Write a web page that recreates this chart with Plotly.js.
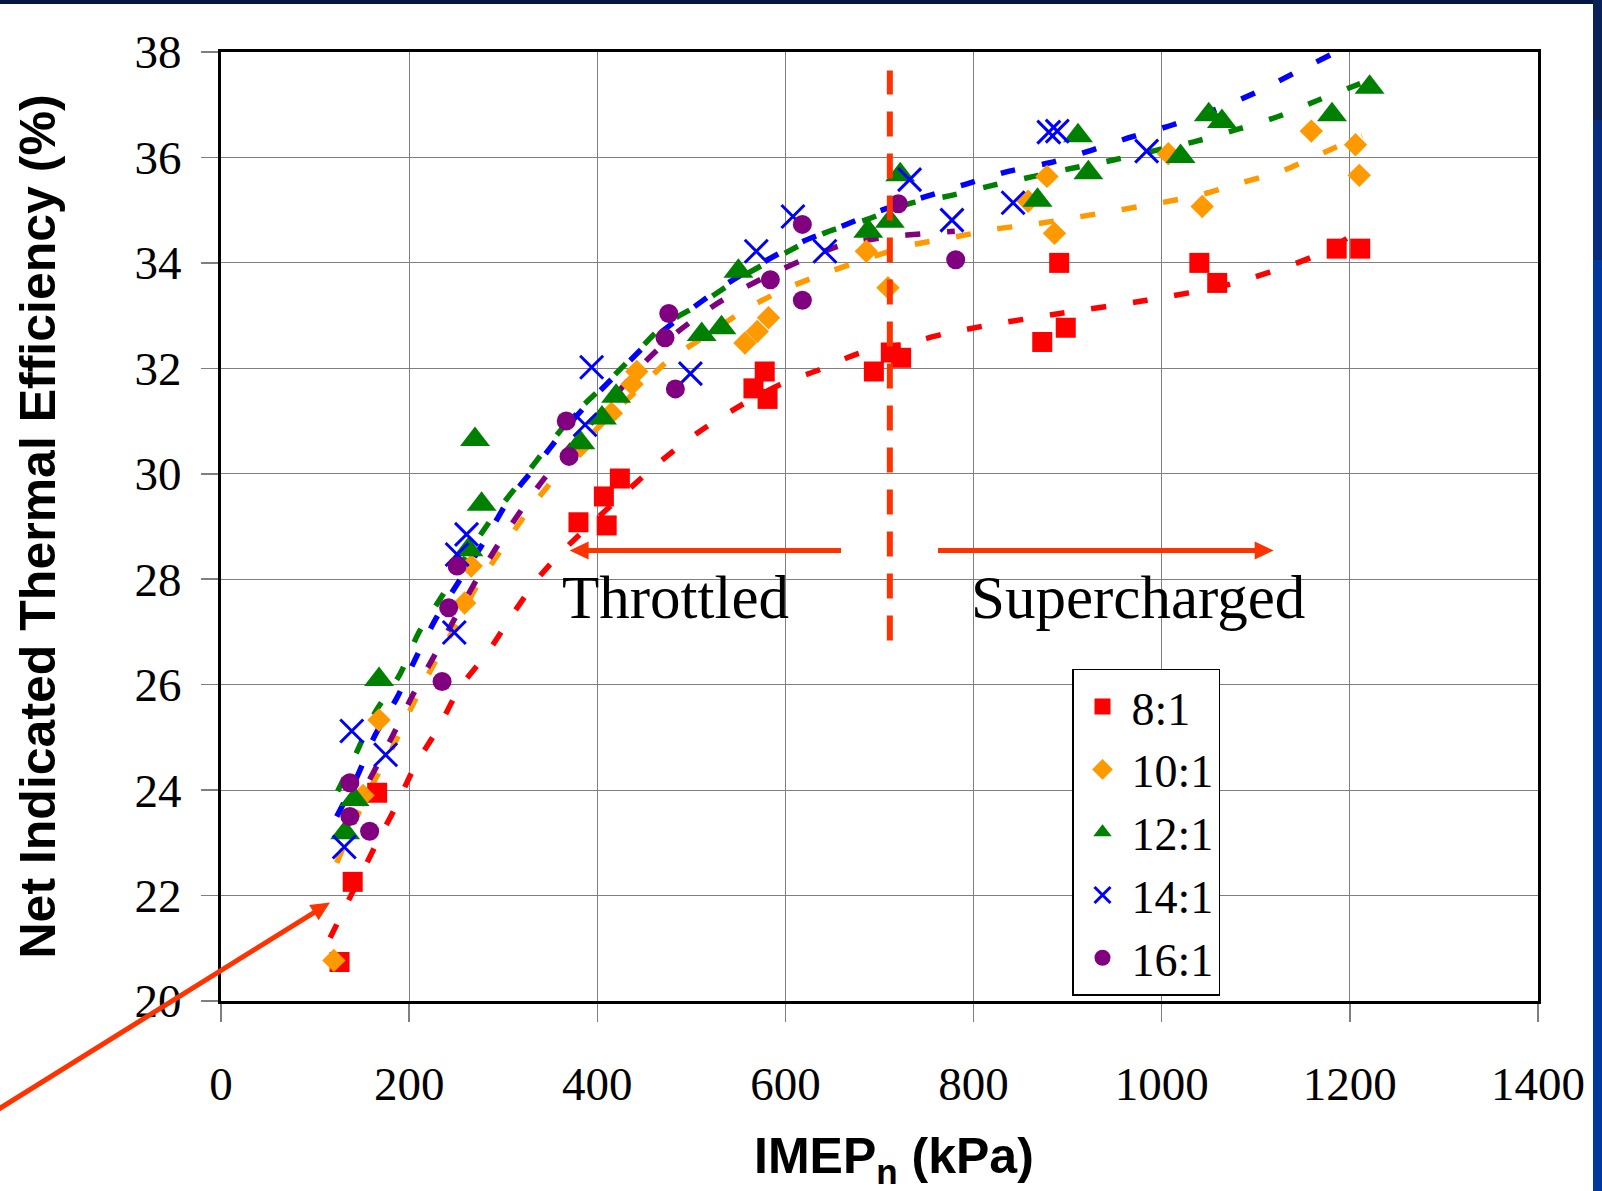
<!DOCTYPE html>
<html>
<head>
<meta charset="utf-8">
<script src="https://cdn.plot.ly/plotly-3.0.1.min.js"></script>
<style>
html,body{margin:0;padding:0;background:#ffffff;}
#chart{width:1602px;height:1191px;}
</style>
</head>
<body>
<div id="chart"></div>
<script>
// ---- Data ----
const seriesNames = ["8:1", "10:1", "12:1", "14:1", "16:1"];

const x8 = [126, 140, 166, 380, 407, 410, 424, 566, 578, 581, 694, 712, 723, 873, 891, 898, 1040, 1059, 1186, 1211];
const y8 = [20.74, 22.26, 23.95, 29.08, 29.57, 29.02, 29.91, 31.62, 31.94, 31.42, 31.94, 32.3, 32.2, 32.5, 34.0, 32.77, 34.0, 33.62, 34.27, 34.27];

const x10 = [120, 151, 168, 259, 266, 382, 415, 437, 442, 557, 570, 582, 686, 709, 858, 878, 886, 1007, 1043, 1159, 1206, 1210];
const y10 = [20.77, 23.9, 25.33, 27.55, 28.25, 30.52, 31.15, 31.7, 31.94, 32.48, 32.7, 32.96, 34.22, 33.53, 35.17, 35.64, 34.56, 36.07, 35.07, 36.5, 36.24, 35.66];

const x12 = [132, 142, 168, 263, 270, 277, 382, 405, 420, 511, 532, 550, 688, 711, 722, 868, 911, 922, 1020, 1050, 1064, 1181, 1221];
const y12 = [23.19, 23.82, 26.1, 28.56, 30.65, 29.42, 30.59, 31.06, 31.47, 32.64, 32.77, 33.84, 34.6, 34.79, 35.67, 35.19, 36.41, 35.71, 36.02, 36.81, 36.68, 36.81, 37.33];

const x14 = [131, 139, 175, 248, 251, 261, 387, 394, 499, 569, 608, 642, 732, 777, 842, 880, 889, 984];
const y14 = [22.92, 25.12, 24.67, 26.99, 28.47, 28.85, 30.93, 32.02, 31.9, 34.22, 34.88, 34.22, 35.58, 34.81, 35.14, 36.48, 36.5, 36.12];

const x16 = [137, 137, 158, 235, 242, 251, 367, 370, 472, 476, 483, 584, 618, 618, 720, 781];
const y16 = [24.14, 23.5, 23.22, 26.06, 27.46, 28.25, 31.0, 30.33, 32.58, 33.04, 31.61, 33.68, 33.29, 34.73, 35.12, 34.06];

// Trendlines
const tx8 = [116, 123, 164, 185, 206, 231, 254, 283, 311, 339, 368, 465, 506, 548, 594, 637, 679, 729, 768, 810, 895, 984, 1073, 1161, 1204];
const ty8 = [21.2, 21.45, 22.94, 23.66, 24.45, 25.18, 25.94, 26.6, 27.36, 28.06, 28.62, 30.2, 30.77, 31.25, 31.69, 31.98, 32.29, 32.47, 32.65, 32.8, 33.05, 33.29, 33.6, 34.12, 34.54];

const tx10 = [123, 142, 162, 183, 203, 226, 249, 272, 298, 325, 353, 381, 420, 450, 477, 515, 559, 603, 648, 690, 732, 780, 823, 867, 911, 954, 999, 1043, 1085, 1129, 1172, 1213];
const ty10 = [22.62, 23.41, 24.14, 24.83, 25.59, 26.38, 27.1, 27.87, 28.56, 29.26, 29.89, 30.52, 31.2, 31.72, 32.17, 32.61, 33.13, 33.53, 33.84, 34.1, 34.33, 34.49, 34.64, 34.74, 34.87, 35.0, 35.14, 35.3, 35.52, 35.75, 36.09, 36.41];

const tx12 = [124, 144, 164, 190, 210, 236, 263, 291, 320, 346, 375, 404, 437, 470, 511, 555, 600, 642, 686, 731, 774, 820, 864, 906, 951, 995, 1037, 1082, 1126, 1168, 1211];
const ty12 = [23.98, 24.71, 25.48, 26.19, 26.98, 27.71, 28.5, 29.23, 29.89, 30.49, 31.12, 31.62, 32.21, 32.8, 33.24, 33.75, 34.19, 34.57, 34.82, 35.12, 35.27, 35.47, 35.64, 35.8, 35.96, 36.14, 36.31, 36.54, 36.79, 37.1, 37.4];

const tx14 = [123, 144, 164, 187, 208, 229, 254, 281, 305, 336, 364, 394, 424, 454, 492, 534, 575, 619, 662, 704, 748, 793, 838, 881, 926, 968, 1012, 1057, 1099, 1144, 1183, 1215];
const ty14 = [23.5, 24.23, 25.05, 25.75, 26.54, 27.27, 27.99, 28.75, 29.48, 30.17, 30.81, 31.41, 31.95, 32.48, 33.02, 33.56, 34.0, 34.41, 34.71, 35.01, 35.25, 35.5, 35.74, 35.9, 36.14, 36.39, 36.62, 36.91, 37.22, 37.63, 37.98, 38.3];

const tx16 = [158, 183, 204, 229, 253, 277, 305, 336, 370, 408, 444, 486, 531, 575, 619, 662, 708, 752, 780];
const ty16 = [24.2, 25.05, 25.81, 26.62, 27.4, 28.15, 28.94, 29.73, 30.5, 31.25, 32.0, 32.7, 33.27, 33.7, 34.06, 34.35, 34.49, 34.56, 34.6];

const xTicks = [0, 200, 400, 600, 800, 1000, 1200, 1400];
const yTicks = [20, 22, 24, 26, 28, 30, 32, 34, 36, 38];

const boundaryX = 711;           // throttled / supercharged divider
const boundaryY = [26.84, 37.65];
const labelThrottled = "Throttled";
const labelSupercharged = "Supercharged";
const xTitle = "IMEP<sub>n</sub> (kPa)";
const yTitle = "Net Indicated Thermal Efficiency (%)";

// ---- Styles ----
const colors = ["#FF0000", "#FF9900", "#008000", "#0000FF", "#800080"];
const symbols = ["square", "diamond", "triangle-up", "x-thin", "circle"];
const sizes = [20, 18, 26, 23, 19];
const accent = "#FF3300";

const xs = [x8, x10, x12, x14, x16];
const ys = [y8, y10, y12, y14, y16];
const txs = [tx8, tx10, tx12, tx14, tx16];
const tys = [ty8, ty10, ty12, ty14, ty16];

const traces = [];
for (let i = 0; i < 5; i++) {
  traces.push({
    x: txs[i], y: tys[i], type: "scatter", mode: "lines",
    line: {color: colors[i], width: 5.5, dash: "15px,27px", shape: "spline", smoothing: 0.8},
    showlegend: false, hoverinfo: "skip"
  });
}
for (let i = 0; i < 5; i++) {
  const m = {symbol: symbols[i], size: sizes[i], color: colors[i], line: {width: 0}};
  if (symbols[i] === "x-thin") m.line = {width: 3, color: colors[i]};
  traces.push({
    x: xs[i], y: ys[i], type: "scatter", mode: "markers",
    name: seriesNames[i], marker: m, cliponaxis: false
  });
}

const serif = "'Liberation Serif', 'Times New Roman', serif";
const sans = "'Liberation Sans', Arial, sans-serif";

// pixel -> paper helpers for the plot area
const L = 221, R = 1538, T = 52, B = 1001.5;
const px = v => (v - L) / (R - L);
const py = v => (B - v) / (B - T);

// arrow as a line + filled head, given tail and tip in page pixels
function arrowShapes(x0, y0, x1, y1) {
  const dx = x1 - x0, dy = y1 - y0, len = Math.hypot(dx, dy);
  const ux = dx / len, uy = dy / len;
  const hl = 19, hw = 9;
  const bx = x1 - ux * hl, by = y1 - uy * hl;
  const pxn = -uy, pyn = ux;
  const p = (X, Y) => px(X).toFixed(5) + "," + py(Y).toFixed(5);
  return [
    {type: "line", xref: "paper", yref: "paper", x0: px(x0), y0: py(y0), x1: px(bx + ux * 2), y1: py(by + uy * 2),
     line: {color: accent, width: 5}},
    {type: "path", xref: "paper", yref: "paper",
     path: "M" + p(x1, y1) + " L" + p(bx + pxn * hw, by + pyn * hw) + " L" + p(bx - pxn * hw, by - pyn * hw) + " Z",
     fillcolor: accent, line: {width: 0}}
  ];
}

const shapes = [
  {type: "line", xref: "x", yref: "y", x0: boundaryX, x1: boundaryX, y0: boundaryY[0], y1: boundaryY[1],
   line: {color: accent, width: 6, dash: "25px,17px"}},
  {type: "rect", xref: "paper", yref: "paper", x0: px(0), x1: px(1602), y0: py(4), y1: py(-5),
   fillcolor: "#03173f", line: {width: 0}, layer: "below"},
  {type: "rect", xref: "paper", yref: "paper", x0: px(1593), x1: px(1605), y0: py(0), y1: py(120),
   fillcolor: "#0a2257", line: {width: 0}, layer: "below"},
  {type: "rect", xref: "paper", yref: "paper", x0: px(1593), x1: px(1605), y0: py(120), y1: py(260),
   fillcolor: "#062c80", line: {width: 0}, layer: "below"},
  {type: "rect", xref: "paper", yref: "paper", x0: px(1593), x1: px(1605), y0: py(260), y1: py(1195),
   fillcolor: "#00399e", line: {width: 0}, layer: "below"}
].concat(
  arrowShapes(841, 550.7, 569.6, 550.7),
  arrowShapes(938, 550.7, 1273.7, 550.7),
  arrowShapes(-2, 1110, 330, 903)
);

const annotations = [
  {x: px(675), y: py(598), xref: "paper", yref: "paper", xanchor: "center", yanchor: "middle",
   text: labelThrottled, showarrow: false, font: {family: serif, size: 61, color: "#000000"}},
  {x: px(1138), y: py(598), xref: "paper", yref: "paper", xanchor: "center", yanchor: "middle",
   text: labelSupercharged, showarrow: false, font: {family: serif, size: 61, color: "#000000"}},
  {x: px(894), y: py(1160), xref: "paper", yref: "paper", xanchor: "center", yanchor: "middle",
   text: xTitle, showarrow: false, font: {family: sans, size: 50, color: "#000000", weight: "bold"}}
];

const layout = {
  width: 1602, height: 1191,
  margin: {l: L, r: 1602 - R, t: T, b: 1191 - B, pad: 0},
  paper_bgcolor: "#ffffff", plot_bgcolor: "#ffffff",
  showlegend: true,
  legend: {
    x: px(1072), y: py(669), xanchor: "left", yanchor: "top",
    bgcolor: "#ffffff", bordercolor: "#000000", borderwidth: 1.5,
    font: {family: serif, size: 46, color: "#000000"},
    tracegroupgap: 0, itemsizing: "trace", itemwidth: 48
  },
  xaxis: {
    range: [0, 1400], tickvals: xTicks, ticktext: xTicks.map(String),
    showgrid: true, gridcolor: "#7f7f7f", gridwidth: 1.2,
    showline: true, linecolor: "#000000", linewidth: 3, mirror: true,
    ticks: "outside", ticklen: 18, tickcolor: "#7f7f7f", tickwidth: 1.5,
    ticklabelstandoff: 22,
    tickfont: {family: serif, size: 47, color: "#000000"},
    zeroline: false
  },
  yaxis: {
    range: [20, 38], tickvals: yTicks, ticktext: yTicks.map(String),
    showgrid: true, gridcolor: "#7f7f7f", gridwidth: 1.2,
    showline: true, linecolor: "#000000", linewidth: 3, mirror: true,
    ticks: "outside", ticklen: 17, tickcolor: "#7f7f7f", tickwidth: 1.5,
    ticklabelstandoff: 10,
    tickfont: {family: serif, size: 47, color: "#000000"},
    zeroline: false,
    title: {text: yTitle, font: {family: sans, size: 50, color: "#000000", weight: "bold"}, standoff: 64}
  },
  shapes: shapes,
  annotations: annotations
};

Plotly.newPlot("chart", traces, layout, {staticPlot: true, displayModeBar: false});
</script>
</body>
</html>
